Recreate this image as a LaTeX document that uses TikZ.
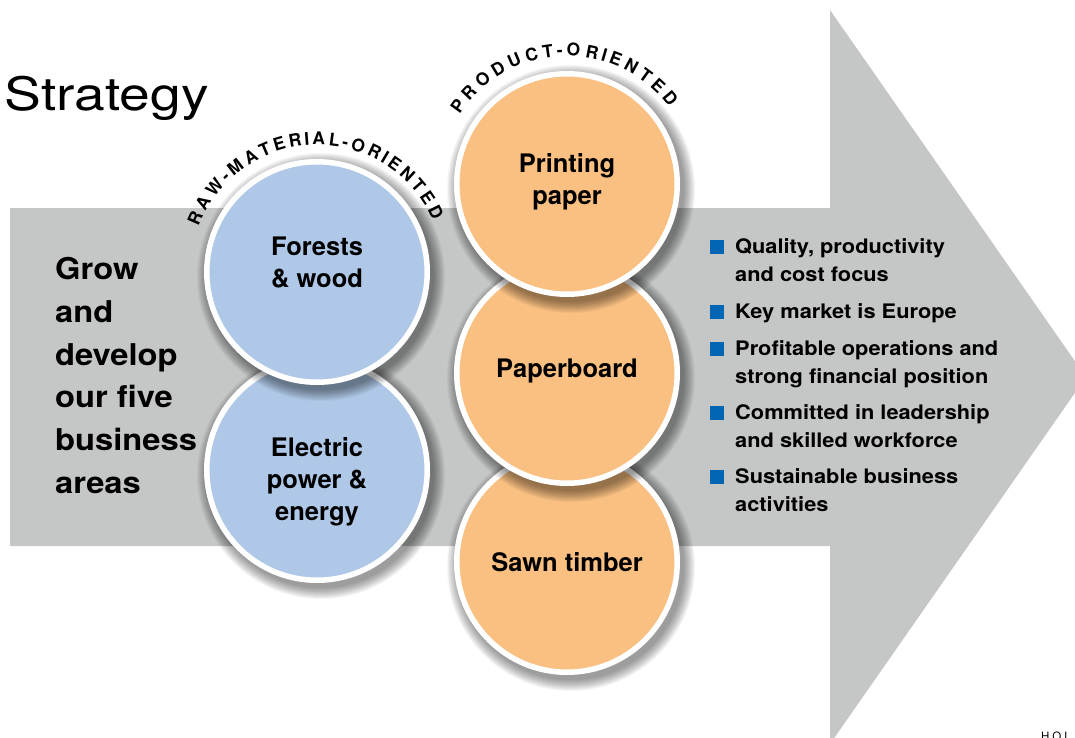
\documentclass[tikz,border=0pt]{standalone}
\usepackage{fontspec}
\setmainfont{TeX Gyre Heros}
\newfontfamily\widesans[FakeStretch=1.09]{TeX Gyre Heros}
\newfontfamily\titlesans[FakeStretch=1.2]{TeX Gyre Heros}
\usetikzlibrary{calc,decorations.text}

\definecolor{arrowgray}{RGB}{197,198,198}
\definecolor{rawblue}{RGB}{175,200,231}
\definecolor{prodorange}{RGB}{249,192,130}
\definecolor{bulletblue}{RGB}{0,102,179}

\newcommand{\arcfont}{\bfseries\fontsize{17.5}{17.5}\selectfont}

% soft shadow under a bubble centred at coordinate #1
\newcommand{\bubbleshadow}[1]{%
  \foreach \k in {0,...,11}{%
    \fill[black, opacity=0.04] ($(#1)+(4,5)$) circle ({124-1.0*\k});
  }}

\begin{document}
\begin{tikzpicture}[x=1pt, y=-1pt,
  bubble/.style={circle, draw=white, line width=5.5pt, inner sep=0pt, minimum size=220.5pt},
  bubbletext/.style={font=\bfseries\fontsize{25.5}{32}\selectfont, align=center, inner sep=0pt},
  goaltext/.style={font=\widesans\bfseries\fontsize{30}{42.8}\selectfont, align=left, inner sep=0pt, anchor=north west},
  pointtext/.style={font=\widesans\bfseries\fontsize{20}{28}\selectfont, align=left, inner sep=0pt, anchor=north west},
  bulletsq/.style={rectangle, fill=bulletblue, minimum size=14pt, inner sep=0pt},
  arctext/.style={decorate, decoration={text effects along path, text={#1},
      text effects/.cd, text along path, fit text to path,
      characters={font=\arcfont}, character widths={font=\arcfont}}}
]
\useasboundingbox (0,0) rectangle (1075,738);
\clip (0,0) rectangle (1075,738);

% big grey arrow
\fill[arrowgray] (10,208) -- (830,208) -- (830,10) -- (1086,377) -- (830,744)
  -- (830,546) -- (10,546) -- cycle;

% title
\node[font=\titlesans\fontsize{46}{50}\selectfont, anchor=base west, inner sep=0pt]
  (title) at (4.5,111) {Strategy};

% left statement
\node[goaltext] (goal) at (55,257) {Grow\\and\\develop\\our five\\business\\areas};

% bubble centres
\coordinate (cForest) at (317,272);
\coordinate (cPower)  at (317,470);
\coordinate (cPrint)  at (567,184);
\coordinate (cBoard)  at (567,373);
\coordinate (cTimber) at (567,562);

% raw-material bubbles (lower one first)
\bubbleshadow{cPower}
\node[bubble, fill=rawblue] (power) at (cPower) {};
\bubbleshadow{cForest}
\node[bubble, fill=rawblue] (forest) at (cForest) {};

% product bubbles (lowest first)
\bubbleshadow{cTimber}
\node[bubble, fill=prodorange] (timber) at (cTimber) {};
\bubbleshadow{cBoard}
\node[bubble, fill=prodorange] (board) at (cBoard) {};
\bubbleshadow{cPrint}
\node[bubble, fill=prodorange] (print) at (cPrint) {};

% bubble labels
\node[bubbletext, anchor=north] (forestlbl) at (317,236.8) {Forests\\\& wood};
\node[bubbletext, anchor=north] (powerlbl) at (317,436.8) {Electric\\power \&\\energy};
\node[bubbletext, anchor=north] (printlbl) at (567,153.8) {Printing\\paper};
\node[bubbletext, anchor=base] (boardlbl) at (567,377) {Paperboard};
\node[bubbletext, anchor=base] (timberlbl) at (567,571) {Sawn timber};

% curved group captions
\path[arctext={RAW-MATERIAL-ORIENTED}]
  ($(cForest)+(-159:127)$) arc[start angle=-159, end angle=-24, radius=127];
\path[arctext={PRODUCT-ORIENTED}]
  ($(cPrint)+(-147:128)$) arc[start angle=-147, end angle=-37, radius=128];

% focus points
\node[bulletsq] (sq1) at (717,247) {};
\node[pointtext] (p1) at (735,238.2) {Quality, productivity\\and cost focus};
\node[bulletsq] (sq2) at (717,311.5) {};
\node[pointtext] (p2) at (735,303.6) {Key market is Europe};
\node[bulletsq] (sq3) at (717,348.5) {};
\node[pointtext] (p3) at (735,340.4) {Profitable operations and\\strong financial position};
\node[bulletsq] (sq4) at (717,412.5) {};
\node[pointtext] (p4) at (735,404.2) {Committed in leadership\\and skilled workforce};
\node[bulletsq] (sq5) at (717,476.5) {};
\node[pointtext] (p5) at (735,468.2) {Sustainable business\\activities};

% running footer
\node[font=\fontsize{11.5}{12}\selectfont\addfontfeature{LetterSpace=26}, anchor=base west, inner sep=0pt]
  (folio) at (1041,740) {HOL};
\end{tikzpicture}
\end{document}
